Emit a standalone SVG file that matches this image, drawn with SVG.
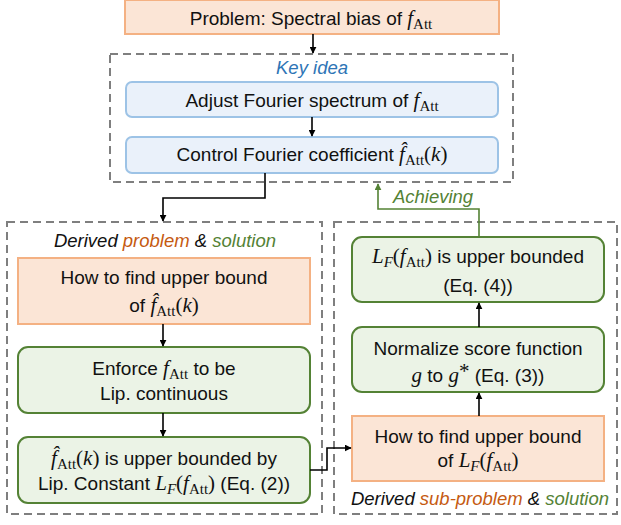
<svg xmlns="http://www.w3.org/2000/svg" width="621" height="525" viewBox="0 0 621 525">
  <defs>
    <marker id="arrow" viewBox="0 0 10 10" refX="9" refY="5" markerWidth="7" markerHeight="7" orient="auto-start-reverse" markerUnits="userSpaceOnUse">
      <path d="M0,0 L10,5 L0,10 z" fill="#000"/>
    </marker>
    <marker id="arrowGreen" viewBox="0 0 10 10" refX="9" refY="5" markerWidth="7" markerHeight="7" orient="auto-start-reverse" markerUnits="userSpaceOnUse">
      <path d="M0,0 L10,5 L0,10 z" fill="#548235"/>
    </marker>
    <style>
      text { font-family: "Liberation Sans", Arial, sans-serif; font-size: 19px; fill: #111; text-anchor: middle; }
      .m { font-family: "Liberation Serif", "DejaVu Serif", serif; font-style: italic; font-size: 21px; }
      .sub { font-family: "Liberation Serif", "DejaVu Serif", serif; font-style: normal; font-size: 15px; }
      .subi { font-family: "Liberation Serif", "DejaVu Serif", serif; font-style: italic; font-size: 15px; }
      .rm { font-family: "Liberation Serif", "DejaVu Serif", serif; font-style: normal; font-size: 21px; }
      .label { font-style: italic; font-size: 18.5px; }
      .blue { fill: #2E75B6; }
      .orange { fill: #C55A11; }
      .green { fill: #548235; }
      .prob { fill: #FBE5D6; stroke: #F4B183; stroke-width: 2; }
      .idea { fill: #EAF1FA; stroke: #9DC3E6; stroke-width: 2; }
      .sol { fill: #EBF3E6; stroke: #548235; stroke-width: 2; }
      .group { fill: none; stroke: #7F7F7F; stroke-width: 2; stroke-dasharray: 8 5; }
      .conn { fill: none; stroke: #000; stroke-width: 1.6; }
      .connG { fill: none; stroke: #548235; stroke-width: 1.6; }
    </style>
  </defs>

  <!-- dashed group frames -->
  <g id="frames">
    <rect class="group" x="110" y="54" width="403" height="128"/>
    <rect class="group" x="7" y="222" width="315" height="292"/>
    <rect class="group" x="334" y="222" width="283" height="292"/>
  </g>

  <!-- group captions -->
  <g id="captions">
    <text class="label blue" x="312" y="74">Key idea</text>
    <text class="label" x="165" y="247">Derived <tspan class="orange">problem</tspan> &amp; <tspan class="green">solution</tspan></text>
    <text class="label" x="480" y="505">Derived <tspan class="orange">sub-problem</tspan> &amp; <tspan class="green">solution</tspan></text>
    <text class="label green" x="433" y="203">Achieving</text>
  </g>

  <g id="problem">
    <rect class="prob" x="125" y="0" width="374" height="34"/>
    <text x="311" y="25">Problem: Spectral bias of <tspan class="m">f</tspan><tspan class="sub" dy="4">Att</tspan></text>
  </g>

  <g id="adjust">
    <rect class="idea" x="126" y="82" width="372" height="35" rx="6"/>
    <text x="312" y="107">Adjust Fourier spectrum of <tspan class="m">f</tspan><tspan class="sub" dy="4">Att</tspan></text>
  </g>

  <g id="control">
    <rect class="idea" x="126" y="137" width="372" height="36" rx="6"/>
    <text x="312" y="161">Control Fourier coefficient <tspan class="m">f̂</tspan><tspan class="sub" dy="4">Att</tspan><tspan class="rm" dy="-4">(</tspan><tspan class="m">k</tspan><tspan class="rm">)</tspan></text>
  </g>

  <g id="find-bound">
    <rect class="prob" x="18" y="258" width="292" height="66"/>
    <text x="164" y="284">How to find upper bound</text>
    <text x="164" y="312">of <tspan class="m">f̂</tspan><tspan class="sub" dy="4">Att</tspan><tspan class="rm" dy="-4">(</tspan><tspan class="m">k</tspan><tspan class="rm">)</tspan></text>
  </g>

  <g id="enforce">
    <rect class="sol" x="18" y="347" width="292" height="66" rx="10"/>
    <text x="164" y="375">Enforce <tspan class="m">f</tspan><tspan class="sub" dy="4">Att</tspan><tspan dy="-4"> to be</tspan></text>
    <text x="164" y="400">Lip. continuous</text>
  </g>

  <g id="bounded-by-lip">
    <rect class="sol" x="18" y="437" width="292" height="66" rx="10"/>
    <text x="164" y="465"><tspan class="m">f̂</tspan><tspan class="sub" dy="4">Att</tspan><tspan class="rm" dy="-4">(</tspan><tspan class="m">k</tspan><tspan class="rm">)</tspan> is upper bounded by</text>
    <text x="164" y="490">Lip. Constant <tspan class="m">L</tspan><tspan class="subi" dy="4">F</tspan><tspan class="rm" dy="-4">(</tspan><tspan class="m">f</tspan><tspan class="sub" dy="4">Att</tspan><tspan class="rm" dy="-4">)</tspan> (Eq. (2))</text>
  </g>

  <g id="lf-bounded">
    <rect class="sol" x="352" y="237" width="252" height="65" rx="10"/>
    <text x="478" y="263"><tspan class="m">L</tspan><tspan class="subi" dy="4">F</tspan><tspan class="rm" dy="-4">(</tspan><tspan class="m">f</tspan><tspan class="sub" dy="4">Att</tspan><tspan class="rm" dy="-4">)</tspan> is upper bounded</text>
    <text x="478" y="292">(Eq. (4))</text>
  </g>

  <g id="normalize">
    <rect class="sol" x="352" y="327" width="252" height="65" rx="10"/>
    <text x="478" y="355">Normalize score function</text>
    <text x="478" y="382"><tspan class="m">g</tspan> to <tspan class="m">g</tspan><tspan class="rm" font-size="12" dy="-4">*</tspan><tspan dy="4"> (Eq. (3))</tspan></text>
  </g>

  <g id="find-lf-bound">
    <rect class="prob" x="352" y="416" width="252" height="65"/>
    <text x="478" y="443">How to find upper bound</text>
    <text x="478" y="467">of <tspan class="m">L</tspan><tspan class="subi" dy="4">F</tspan><tspan class="rm" dy="-4">(</tspan><tspan class="m">f</tspan><tspan class="sub" dy="4">Att</tspan><tspan class="rm" dy="-4">)</tspan></text>
  </g>

  <!-- connectors -->
  <g id="connectors">
    <path class="conn" d="M313,34 V53" marker-end="url(#arrow)"/>
    <path class="conn" d="M312,117 V136" marker-end="url(#arrow)"/>
    <path class="conn" d="M265,173 V198 H163 V221" marker-end="url(#arrow)"/>
    <path class="conn" d="M163,324 V346" marker-end="url(#arrow)"/>
    <path class="conn" d="M163,413 V436" marker-end="url(#arrow)"/>
    <path class="conn" d="M310,470 H327 V448 H351" marker-end="url(#arrow)"/>
    <path class="conn" d="M479,416 V393" marker-end="url(#arrow)"/>
    <path class="conn" d="M479,327 V303" marker-end="url(#arrow)"/>
    <path class="connG" d="M479,237 V209 H378 V184" marker-end="url(#arrowGreen)"/>
  </g>
</svg>
